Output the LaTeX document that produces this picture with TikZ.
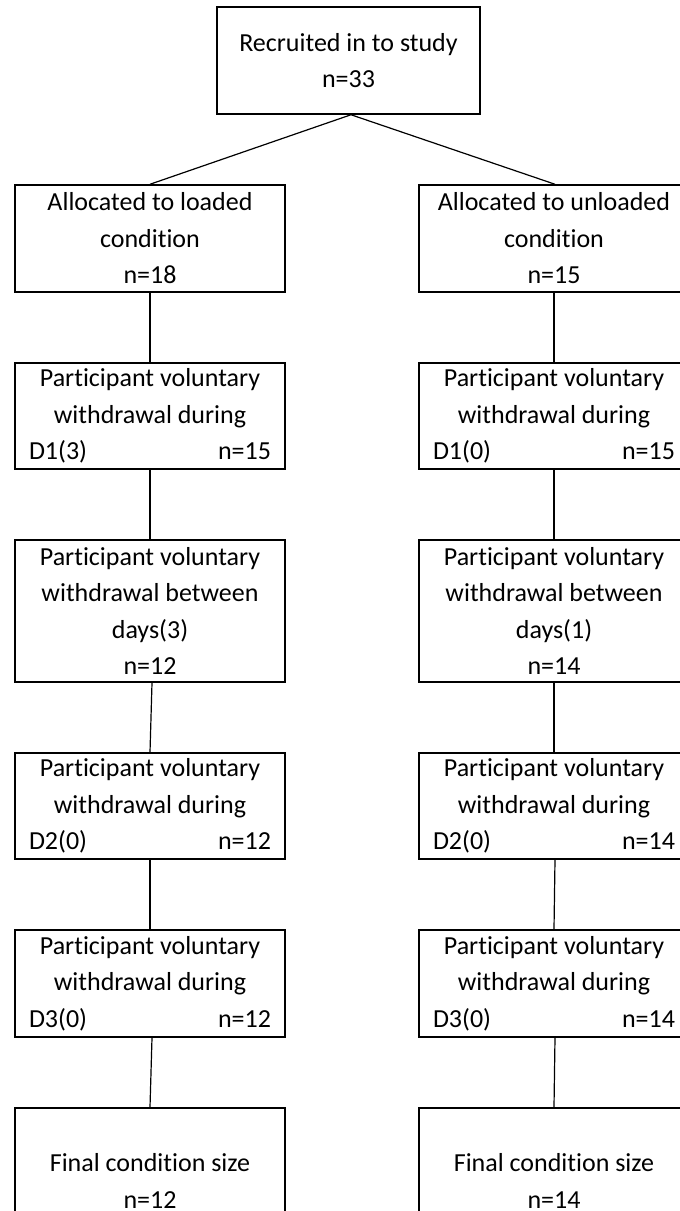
\documentclass[tikz,border=0pt]{standalone}
\usepackage{fontspec}
\setmainfont{Carlito}[Ligatures=NoCommon]
\begin{document}
\begin{tikzpicture}[x=1pt,y=-1pt,
  box/.style={draw,line width=1.5pt,minimum width=270pt,inner sep=0pt,align=center,
    font=\fontsize{26}{36.5}\selectfont},
  link/.style={line width=1.2pt}]
\useasboundingbox (0,0) rectangle (680,1211);
\clip (0,0) rectangle (680,1211);
\newcommand{\lr}[2]{\makebox[242pt]{#1\hfill #2}}
% top
\node[box,minimum width=263pt,minimum height=107pt] (top) at (348.5,60.5) {Recruited in to study\\n=33};
% left column
\node[box,minimum height=107pt] (a1) at (150,238.5) {Allocated to loaded\\condition\\n=18};
\node[box,minimum height=106pt] (a2) at (150,416) {Participant voluntary\\withdrawal during\\\lr{D1(3)}{n=15}};
\node[box,minimum height=142pt] (a3) at (150,611) {Participant voluntary\\withdrawal between\\days(3)\\n=12};
\node[box,minimum height=106pt] (a4) at (150,806) {Participant voluntary\\withdrawal during\\\lr{D2(0)}{n=12}};
\node[box,minimum height=107pt] (a5) at (150,983.5) {Participant voluntary\\withdrawal during\\\lr{D3(0)}{n=12}};
\node[box,minimum height=146pt] (a6) at (150,1181) {Final condition size\\n=12};
% right column
\node[box,minimum height=107pt] (b1) at (554,238.5) {Allocated to unloaded\\condition\\n=15};
\node[box,minimum height=106pt] (b2) at (554,416) {Participant voluntary\\withdrawal during\\\lr{D1(0)}{n=15}};
\node[box,minimum height=142pt] (b3) at (554,611) {Participant voluntary\\withdrawal between\\days(1)\\n=14};
\node[box,minimum height=106pt] (b4) at (554,806) {Participant voluntary\\withdrawal during\\\lr{D2(0)}{n=14}};
\node[box,minimum height=107pt] (b5) at (554,983.5) {Participant voluntary\\withdrawal during\\\lr{D3(0)}{n=14}};
\node[box,minimum height=146pt] (b6) at (554,1181) {Final condition size\\n=14};
% connectors
\coordinate (apex) at ([xshift=2.5pt]top.south);
\draw[link] (apex) -- (a1.north);
\draw[link] (apex) -- ([xshift=1pt]b1.north);
\draw[link] (a1.south) -- (a2.north);
\draw[link] (a2.south) -- (a3.north);
\draw[link] ([xshift=2pt]a3.south) -- (a4.north);
\draw[link] (a4.south) -- (a5.north);
\draw[link] ([xshift=2pt]a5.south) -- (a6.north);
\draw[link] (b1.south) -- (b2.north);
\draw[link] (b2.south) -- (b3.north);
\draw[link] (b3.south) -- (b4.north);
\draw[link] ([xshift=1pt]b4.south) -- (b5.north);
\draw[link] ([xshift=1pt]b5.south) -- (b6.north);
\end{tikzpicture}
\end{document}
